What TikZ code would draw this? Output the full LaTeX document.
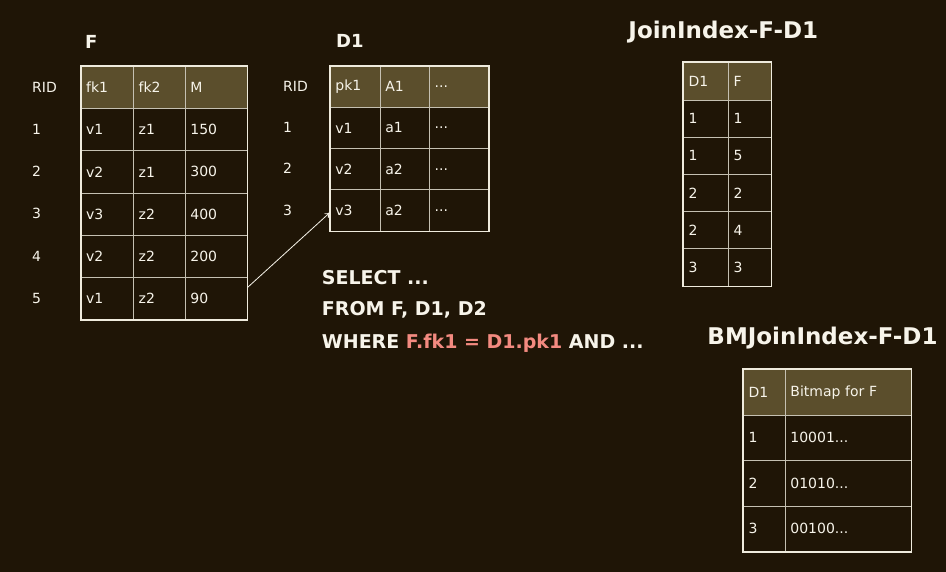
\documentclass[tikz,border=0pt]{standalone}
\usepackage{fontspec}
\setmainfont{DejaVu Sans}
\usetikzlibrary{arrows.meta}
\definecolor{bg}{HTML}{1F1506}
\definecolor{hdr}{HTML}{5B4E2C}
\definecolor{ln}{HTML}{EFEBDD}
\definecolor{txt}{HTML}{F7F4EA}
\definecolor{sqlred}{HTML}{F38A80}
\newcommand\myel{...}
\newcommand\tc[7]{%
  \pgfmathsetmacro\tcw{#4-10}%
  \node[cellbox, fill=#7, minimum width=#4pt, minimum height=#5pt, text width=\tcw pt] (#1) at (#2,#3) {#6};}
\begin{document}
\begin{tikzpicture}[x=1pt,y=-1pt,
  cellbox/.style={draw=ln!80!bg, line width=0.8pt, anchor=north west, inner xsep=5pt, inner ysep=0pt,
    align=left, font=\fontsize{14}{16}\selectfont, text=txt},
  outer/.style={draw=ln, line width=1.8pt},
  ridlabel/.style={anchor=west, inner sep=0pt, font=\fontsize{14}{16}\selectfont, text=txt},
  title/.style={inner sep=0pt, font=\bfseries\fontsize{18}{22}\selectfont, text=txt},
  bigtitle/.style={inner sep=0pt, font=\bfseries\fontsize{23}{27}\selectfont, text=txt},
  sql/.style={anchor=west, inner sep=0pt, font=\bfseries\fontsize{19}{23}\selectfont, text=txt},
  link/.style={draw=txt, line width=0.8pt, -{To[length=5pt,width=6pt]}}]
\fill[bg] (0,0) rectangle (946,572);
\useasboundingbox (0,0) rectangle (946,572);

% ---------- Table F ----------
\node[title, anchor=west] (Ft) at (85,41.7) {F};
\node[ridlabel] (F-rid-h) at (32,87) {RID};
\tc{F-h-1}{80.7}{66}{52.6}{42.2}{fk1}{hdr}
\tc{F-h-2}{133.3}{66}{51.7}{42.2}{fk2}{hdr}
\tc{F-h-3}{185}{66}{61.7}{42.2}{M}{hdr}
\foreach \r/\a/\b/\c [count=\i] in {1/v1/z1/150, 2/v2/z1/300, 3/v3/z2/400, 4/v2/z2/200, 5/v1/z2/90}{
  \pgfmathsetmacro\yy{66+\i*42.2}
  \tc{F-\r-1}{80.7}{\yy}{52.6}{42.2}{\a}{none}
  \tc{F-\r-2}{133.3}{\yy}{51.7}{42.2}{\b}{none}
  \tc{F-\r-3}{185}{\yy}{61.7}{42.2}{\c}{none}
  \node[ridlabel] (F-rid-\r) at (32,\yy+21.1) {\r};
}
\draw[outer] (F-h-1.north west) rectangle (F-5-3.south east);

% ---------- Table D1 ----------
\node[title, anchor=west] (Dt) at (336,40.7) {D1};
\node[ridlabel] (D-rid-h) at (283,86.5) {RID};
\tc{D1-h-1}{330}{65.7}{50}{41.25}{pk1}{hdr}
\tc{D1-h-2}{380}{65.7}{49.3}{41.25}{A1}{hdr}
\tc{D1-h-3}{429.3}{65.7}{59}{41.25}{\myel}{hdr}
\foreach \r/\a/\b [count=\i] in {1/v1/a1, 2/v2/a2, 3/v3/a2}{
  \pgfmathsetmacro\yy{65.7+\i*41.25}
  \tc{D1-\r-1}{330}{\yy}{50}{41.25}{\a}{none}
  \tc{D1-\r-2}{380}{\yy}{49.3}{41.25}{\b}{none}
  \tc{D1-\r-3}{429.3}{\yy}{59}{41.25}{\myel}{none}
  \node[ridlabel] (D-rid-\r) at (283,\yy+20.6) {\r};
}
\draw[outer] (D1-h-1.north west) rectangle (D1-3-3.south east);

% ---------- arrow ----------
\draw[link] ([yshift=11pt]F-5-3.east) -- ([yshift=-2pt]D1-3-1.west);

% ---------- JoinIndex-F-D1 ----------
\node[bigtitle] (Jt) at (723.3,31.7) {JoinIndex-F-D1};
\tc{J-h-1}{683.3}{62.3}{45}{37.23}{D1}{hdr}
\tc{J-h-2}{728.3}{62.3}{42.4}{37.23}{F}{hdr}
\foreach \a/\b [count=\i] in {1/1, 1/5, 2/2, 2/4, 3/3}{
  \pgfmathsetmacro\yy{62.3+\i*37.23}
  \tc{J-\i-1}{683.3}{\yy}{45}{37.23}{\a}{none}
  \tc{J-\i-2}{728.3}{\yy}{42.4}{37.23}{\b}{none}
}
\draw[outer] (J-h-1.north west) rectangle (J-5-2.south east);

% ---------- SQL ----------
\node[sql] (q1) at (321.7,277.7) {SELECT \myel};
\node[sql] (q2) at (321.7,310) {FROM F, D1, D2};
\node[sql] (q3) at (321.7,343.3) {WHERE \textcolor{sqlred}{F.fk1 = D1.pk1} AND \myel};

% ---------- BMJoinIndex-F-D1 ----------
\node[bigtitle] (Bt) at (822.5,338) {BMJoinIndex-F-D1};
\tc{B-h-1}{743.3}{369.3}{41.7}{45.4}{D1}{hdr}
\tc{B-h-2}{785}{369.3}{125.7}{45.4}{Bitmap for F}{hdr}
\foreach \a/\b [count=\i] in {1/10001\myel, 2/01010\myel, 3/00100\myel}{
  \pgfmathsetmacro\yy{369.3+\i*45.4}
  \tc{B-\i-1}{743.3}{\yy}{41.7}{45.4}{\a}{none}
  \tc{B-\i-2}{785}{\yy}{125.7}{45.4}{\b}{none}
}
\draw[outer] (B-h-1.north west) rectangle (B-3-2.south east);
\end{tikzpicture}
\end{document}
